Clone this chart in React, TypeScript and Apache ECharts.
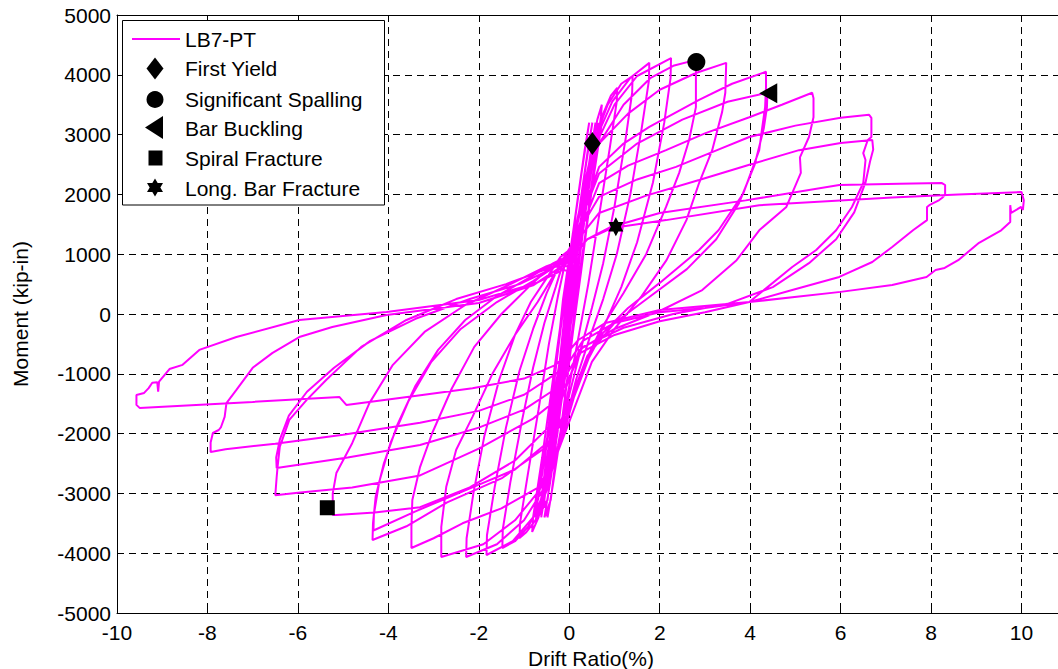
import React, { useEffect, useRef } from "react";
import * as echarts from "echarts";

type Pt = [number, number];

// Drift ratio (%) vs moment (kip-in), read cycle by cycle from the reference
const cycle1: Pt[] = [[0, 0], [0.1, 600], [0.2, 1200], [0.26, 1550], [0.24, 1400], [0.1, 550], [0, -50], [-0.1, -650], [-0.2, -1250], [-0.26, -1600], [-0.24, -1450], [-0.1, -600], [0.0, 50]];
const cycle2: Pt[] = [[0.1, 650], [0.25, 1500], [0.4, 2300], [0.5, 2850], [0.48, 2650], [0.3, 1500], [0.1, 250], [-0.05, -500], [-0.2, -1350], [-0.38, -2250], [-0.52, -2850], [-0.5, -2650], [-0.3, -1600], [-0.1, -350], [0.02, 300]];
const cycle2b: Pt[] = [[0.12, 800], [0.28, 1700], [0.42, 2400], [0.52, 2800], [0.5, 2600], [0.33, 1550], [0.12, 300], [-0.03, -450], [-0.18, -1300], [-0.36, -2200], [-0.5, -2800], [-0.48, -2600], [-0.28, -1550], [-0.08, -300], [0.04, 400]];
// elastic band cycles near the origin
const band1: Pt[] = [[-0.69, -3110], [-0.59, -2500], [-0.47, -1990], [-0.31, -1000], [-0.14, 234], [0.08, 1350], [0.2, 2000], [0.34, 2740], [0.44, 3200], [0.4, 3000], [0.28, 2400], [0.14, 1650], [-0.02, 700], [-0.19, -250], [-0.36, -1300], [-0.52, -2250], [-0.64, -2850], [-0.76, -3400]];
const band2: Pt[] = [[-0.62, -3110], [-0.52, -2500], [-0.4, -1990], [-0.24, -1000], [-0.07, 234], [0.15, 1350], [0.27, 2000], [0.41, 2740], [0.51, 3200], [0.47, 3000], [0.35, 2400], [0.21, 1650], [0.05, 700], [-0.12, -250], [-0.29, -1300], [-0.45, -2250], [-0.57, -2850], [-0.69, -3400]];
const band3: Pt[] = [[-0.48, -3110], [-0.38, -2500], [-0.26, -1990], [-0.1, -1000], [0.07, 234], [0.29, 1350], [0.41, 2000], [0.55, 2740], [0.65, 3200], [0.61, 3000], [0.49, 2400], [0.35, 1650], [0.19, 700], [0.02, -250], [-0.15, -1300], [-0.31, -2250], [-0.43, -2850], [-0.55, -3400]];
const band4: Pt[] = [[-0.41, -3110], [-0.31, -2500], [-0.19, -1990], [-0.03, -1000], [0.14, 234], [0.36, 1350], [0.48, 2000], [0.62, 2740], [0.72, 3200], [0.68, 3000], [0.56, 2400], [0.42, 1650], [0.26, 700], [0.09, -250], [-0.08, -1300], [-0.24, -2250], [-0.36, -2850], [-0.48, -3400]];
const band5: Pt[] = [[-0.55, -3110], [-0.45, -2500], [-0.33, -1990], [-0.17, -1000], [0.0, 234], [0.22, 1350], [0.34, 2000], [0.48, 2740], [0.58, 3200], [0.54, 3000], [0.42, 2400], [0.28, 1650], [0.12, 700], [-0.05, -250], [-0.22, -1300], [-0.38, -2250], [-0.5, -2850], [-0.62, -3400], [-0.3, -1200], [0.0, 200]];
const cycle3: Pt[] = [[0.15, 900], [0.35, 2000], [0.5, 2750], [0.62, 3250], [0.72, 3500], [0.7, 3300], [0.5, 2200], [0.3, 1000], [0.1, -100], [-0.1, -1100], [-0.3, -2100], [-0.5, -2900], [-0.68, -3400], [-0.82, -3645], [-0.8, -3400], [-0.6, -2400], [-0.38, -1200], [-0.18, -100], [-0.02, 600]];
const cycle4: Pt[] = [[0.15, 1050], [0.35, 2050], [0.55, 2850], [0.75, 3350], [0.92, 3650], [1.06, 3780], [1.05, 3550], [0.9, 2800], [0.65, 1600], [0.42, 500], [0.2, -400], [0.0, -1200], [-0.25, -2200], [-0.5, -2950], [-0.75, -3450], [-0.95, -3650], [-1.1, -3746], [-1.09, -3500], [-0.92, -2700], [-0.68, -1600], [-0.45, -500], [-0.25, 300], [-0.08, 900]];
const cycle5: Pt[] = [[0.1, 1150], [0.3, 2050], [0.55, 2900], [0.85, 3500], [1.15, 3850], [1.4, 3980], [1.39, 3700], [1.25, 2950], [1.0, 1800], [0.75, 850], [0.5, 100], [0.25, -600], [0.0, -1350], [-0.25, -2250], [-0.55, -3000], [-0.9, -3550], [-1.2, -3800], [-1.48, -3913], [-1.47, -3600], [-1.3, -2800], [-1.05, -1800], [-0.8, -900], [-0.55, -150], [-0.3, 450], [-0.1, 950]];
const cycle6: Pt[] = [[0.1, 1200], [0.3, 2050], [0.6, 2950], [0.95, 3550], [1.35, 3950], [1.77, 4200], [1.76, 3900], [1.6, 3100], [1.35, 2000], [1.05, 1000], [0.75, 250], [0.45, -400], [0.15, -1100], [-0.15, -2000], [-0.45, -2800], [-0.8, -3400], [-1.25, -3800], [-1.83, -4030], [-1.82, -3700], [-1.65, -2900], [-1.4, -1900], [-1.1, -950], [-0.8, -250], [-0.5, 350], [-0.2, 850]];
const cycle7: Pt[] = [[0.05, 1150], [0.3, 2000], [0.6, 2850], [1.0, 3500], [1.5, 3980], [2.25, 4280], [2.24, 3950], [2.1, 3200], [1.85, 2200], [1.5, 1200], [1.15, 450], [0.8, -150], [0.45, -700], [0.1, -1400], [-0.2, -2200], [-0.55, -2900], [-1.0, -3450], [-1.6, -3850], [-2.28, -4064], [-2.27, -3750], [-2.12, -3000], [-1.88, -2050], [-1.55, -1100], [-1.2, -350], [-0.85, 200], [-0.5, 600], [-0.2, 950]];
const cycle8: Pt[] = [[0.05, 1100], [0.3, 1950], [0.66, 2850], [1.2, 3500], [1.8, 3950], [2.3, 4150], [2.8, 4250], [2.8, 4080], [2.8, 3460], [2.65, 2910], [2.43, 2360], [2.14, 1790], [1.7, 1000], [1.2, 350], [0.7, -250], [0.35, -800], [0.05, -1500], [-0.25, -2300], [-0.66, -2950], [-1.2, -3450], [-1.9, -3850], [-2.83, -4064], [-2.83, -3560], [-2.72, -2890], [-2.5, -2270], [-2.14, -1720], [-1.7, -1000], [-1.2, -350], [-0.7, 200], [-0.3, 700]];
const cycle9: Pt[] = [[0.0, 900], [0.3, 1900], [0.66, 2850], [1.3, 3350], [2.0, 3750], [2.8, 4030], [3.47, 4200], [3.45, 3700], [3.38, 3380], [3.16, 2740], [2.87, 2190], [2.59, 1570], [2.15, 900], [1.6, 300], [1.0, -250], [0.5, -800], [0.15, -1500], [-0.2, -2200], [-0.66, -2890], [-1.5, -3250], [-2.36, -3500], [-3.0, -3750], [-3.49, -3913], [-3.49, -3560], [-3.47, -3110], [-3.3, -2560], [-3.03, -1990], [-2.6, -1250], [-2.1, -550], [-1.5, 0], [-0.9, 450], [-0.4, 800]];
const cycle10: Pt[] = [[0.0, 800], [0.3, 1700], [0.66, 2460], [1.2, 2850], [1.77, 3130], [2.87, 3580], [3.6, 3850], [4.35, 4050], [4.35, 3800], [4.33, 3460], [4.25, 3030], [4.2, 2740], [3.85, 2020], [3.3, 1400], [2.87, 1070], [2.0, 520], [1.3, 100], [0.7, -350], [0.25, -1000], [-0.15, -1800], [-0.5, -2220], [-1.5, -2750], [-2.7, -3150], [-3.6, -3550], [-4.35, -3780], [-4.34, -3500], [-4.28, -3050], [-4.1, -2500], [-3.8, -1850], [-3.4, -1200], [-2.9, -600], [-2.3, -100], [-1.6, 300], [-0.9, 600], [-0.35, 850]];
const cycle11: Pt[] = [[0.05, 1000], [0.35, 1750], [0.66, 2350], [1.5, 2850], [2.5, 3250], [3.5, 3550], [4.38, 3700], [4.37, 3450], [4.3, 3100], [4.1, 2500], [3.75, 1850], [3.25, 1250], [2.6, 750], [1.8, 300], [1.0, -150], [0.4, -700], [0.0, -1500], [-0.4, -2100], [-1.2, -2600], [-2.3, -2950], [-3.4, -3300], [-4.33, -3620], [-4.32, -3350], [-4.2, -2800], [-3.95, -2150], [-3.55, -1450], [-3.05, -800], [-2.4, -250], [-1.6, 200], [-0.8, 550], [-0.3, 800]];
const cycle12: Pt[] = [[0.0, 700], [0.3, 1500], [0.66, 2190], [1.3, 2480], [2.14, 2740], [3.0, 3020], [3.98, 3290], [4.7, 3500], [5.37, 3700], [5.4, 3610], [5.4, 3290], [5.3, 2960], [5.1, 2620], [5.12, 2360], [4.8, 1790], [4.2, 1400], [3.7, 900], [2.94, 400], [2.0, 50], [1.0, -250], [0.22, -600], [-0.1, -1300], [-0.4, -1850], [-1.2, -2450], [-2.2, -2900], [-3.3, -3230], [-4.3, -3320], [-5.15, -3360], [-5.23, -3360], [-5.23, -3000], [-5.15, -2660], [-4.8, -2160], [-4.42, -1490], [-3.9, -850], [-3.2, -300], [-2.3, 150], [-1.3, 500], [-0.5, 800]];
const cycle13: Pt[] = [[0.05, 950], [0.3, 1500], [0.66, 1960], [1.5, 2250], [2.36, 2460], [3.2, 2720], [3.98, 2960], [5.0, 3150], [6.0, 3280], [6.63, 3330], [6.68, 3280], [6.68, 2960], [6.6, 2910], [6.5, 2690], [6.55, 2575], [6.5, 2190], [6.25, 1790], [5.9, 1400], [5.46, 1070], [4.93, 786], [3.98, 200], [3.0, 30], [2.0, -120], [1.0, -350], [0.25, -650], [-0.05, -1150], [-0.3, -1450], [-0.8, -1750], [-2.0, -2250], [-3.3, -2700], [-4.8, -2900], [-6.0, -2990], [-6.5, -3030], [-6.47, -2730], [-6.45, -2560], [-6.4, -2220], [-6.19, -1770], [-5.81, -1440], [-5.37, -1100], [-4.6, -550], [-3.6, -100], [-2.5, 250], [-1.4, 500], [-0.5, 750]];
const cycle14: Pt[] = [[0.05, 950], [0.3, 1350], [0.66, 1690], [1.7, 1980], [2.87, 2240], [4.0, 2500], [5.08, 2740], [6.0, 2860], [6.7, 2910], [6.72, 2750], [6.65, 2550], [6.55, 2200], [6.3, 1700], [5.9, 1250], [5.3, 850], [4.5, 450], [3.5, 170], [2.3, 0], [1.2, -230], [0.3, -550], [-0.05, -1000], [-0.3, -1250], [-1.0, -1600], [-2.0, -1900], [-3.3, -2190], [-4.9, -2400], [-6.47, -2575], [-6.48, -2400], [-6.4, -2100], [-6.2, -1700], [-5.8, -1300], [-5.2, -900], [-4.4, -450], [-3.4, -80], [-2.2, 250], [-1.1, 500], [-0.4, 750]];
const cycle15: Pt[] = [[0.05, 950], [0.4, 1250], [0.9, 1450], [2.0, 1690], [3.9, 1900], [5.97, 2157], [7.3, 2180], [8.24, 2190], [8.31, 2157], [8.31, 1990], [8.24, 1940], [8.18, 1906], [7.96, 1820], [7.91, 1790], [7.91, 1570], [7.6, 1400], [7.14, 1120], [6.7, 870], [5.97, 620], [4.93, 400], [3.98, 200], [3.0, 100], [2.0, 30], [1.0, -150], [0.3, -450], [-0.05, -850], [-0.3, -1000], [-1.0, -1350], [-2.0, -1620], [-3.3, -1820], [-5.0, -2020], [-6.5, -2170], [-7.6, -2260], [-7.93, -2308], [-7.93, -2150], [-7.88, -1990], [-7.75, -1940], [-7.7, -1890], [-7.62, -1720], [-7.58, -1490], [-7.36, -1270], [-7.0, -900], [-6.56, -650], [-5.97, -385], [-5.24, -217], [-4.04, -17], [-2.0, 184], [-0.8, 480], [-0.2, 780]];
const cycle16: Pt[] = [[0.1, 1000], [0.4, 1250], [0.95, 1440], [2.14, 1570], [4.2, 1820], [7.14, 1950], [8.6, 2000], [10.0, 2040], [10.05, 1900], [10.03, 1740], [9.99, 1790], [9.77, 1690], [9.75, 1820], [9.75, 1540], [9.55, 1400], [9.06, 1190], [8.6, 900], [8.3, 770], [8.1, 735], [7.9, 620], [7.14, 485], [6.0, 370], [3.98, 200], [2.0, 67], [0.8, -150], [0.2, -435], [-0.1, -700], [-0.3, -850], [-1.0, -1080], [-2.14, -1240], [-3.5, -1380], [-4.93, -1520], [-5.08, -1390], [-7.0, -1470], [-9.5, -1570], [-9.57, -1520], [-9.57, -1355], [-9.4, -1320], [-9.3, -1240], [-9.22, -1150], [-9.11, -1140], [-9.09, -1300], [-9.07, -1130], [-8.84, -920], [-8.55, -850], [-8.18, -600], [-7.36, -385], [-5.97, -100], [-4.04, 33], [-2.0, 234], [-0.73, 518], [-0.15, 735], [0.05, 1000]];

// Damage-state markers
const firstYield: Pt[] = [[0.51, 2850]];
const significantSpalling: Pt[] = [[2.81, 4215]];
const barBuckling: Pt[] = [[4.4, 3690]];
const spiralFracture: Pt[] = [[-5.35, -3240]];
const longBarFracture: Pt[] = [[1.03, 1460]];

const FONT = "'Liberation Sans', Arial, Helvetica, sans-serif";
const MAGENTA = "#FF00FF";
const HEX_PATH = "path://M5,0 L6.443,2.5 L9.33,2.5 L7.887,5 L9.33,7.5 L6.443,7.5 L5,10 L3.557,7.5 L0.67,7.5 L2.113,5 L0.67,2.5 L3.557,2.5 Z";
const TRI_LEFT_PATH = "path://M0,5 L10,0 L10,10 Z";

export default function App() {
  const ref = useRef<HTMLDivElement>(null);
  useEffect(() => {
    const chart = echarts.init(ref.current!, null, { renderer: "svg" });
    const curve: Pt[] = [
      ...cycle1, ...cycle2, ...cycle2b, ...band1, ...band2, ...band3, ...band4, ...band5,
      ...cycle3, ...cycle4, ...cycle5, ...cycle6, ...cycle7, ...cycle8,
      ...cycle9, ...cycle10, ...cycle11, ...cycle12, ...cycle13, ...cycle14, ...cycle15, ...cycle16,
    ];
    const scatterBase = {
      type: "scatter",
      xAxisIndex: 0,
      yAxisIndex: 0,
      itemStyle: { color: "#000", opacity: 1 },
      z: 5,
      silent: true,
    };
    const legendX = 155;
    const textX = 185;
    const legendFont = `21px ${FONT}`;
    const Z = 100;
    const hex = (cx: number, cy: number) =>
      [[0, -9], [2.67, -4.5], [8, -4.5], [5.33, 0], [8, 4.5], [2.67, 4.5], [0, 9], [-2.67, 4.5], [-8, 4.5], [-5.33, 0], [-8, -4.5], [-2.67, -4.5]].map(
        ([dx, dy]) => [cx + dx, cy + dy]
      );
    const legendText = (y: number, text: string) => ({
      type: "text", z: Z + 1, x: textX, y, style: { text, font: legendFont, fill: "#000", verticalAlign: "middle" },
    });
    chart.setOption({
      animation: false,
      backgroundColor: "#fff",
      textStyle: { fontFamily: FONT },
      grid: { left: 117, top: 15, right: -54, bottom: 56, outerBoundsMode: "none", containLabel: false },
      xAxis: [
        {
          type: "value",
          position: "bottom",
          min: -10,
          max: 12,
          interval: 2,
          axisLine: { show: true, onZero: false, lineStyle: { color: "#000", width: 1 } },
          axisTick: { show: true, inside: true, length: 6, lineStyle: { color: "#000" } },
          axisLabel: { color: "#000", fontSize: 21, margin: 9, fontFamily: FONT, showMaxLabel: false, formatter: (v: number) => String(v) },
          splitLine: { show: true, lineStyle: { color: "#000", width: 1, type: [7, 5] } },
          name: "Drift Ratio(%)",
          nameLocation: "middle",
          nameGap: 29,
          nameTextStyle: { color: "#000", fontSize: 21, fontFamily: FONT, padding: [0, 47, 0, 0] },
        },
        {
          type: "value",
          position: "top",
          min: -10,
          max: 12,
          interval: 2,
          axisLine: { show: true, onZero: false, lineStyle: { color: "#000", width: 1 } },
          axisTick: { show: true, inside: true, length: 6, lineStyle: { color: "#000" } },
          axisLabel: { show: false },
          splitLine: { show: false },
        },
      ],
      yAxis: {
        type: "value",
        min: -5000,
        max: 5000,
        interval: 1000,
        axisLine: { show: true, onZero: false, lineStyle: { color: "#000", width: 1 } },
        axisTick: { show: true, inside: true, length: 6, lineStyle: { color: "#000" } },
        axisLabel: { color: "#000", fontSize: 21, margin: 6, fontFamily: FONT, formatter: (v: number) => String(v) },
        splitLine: { show: true, lineStyle: { color: "#000", width: 1, type: [7, 5] } },
        name: "Moment (kip-in)",
        nameLocation: "middle",
        nameRotate: 90,
        nameGap: 86,
        nameTextStyle: { color: "#000", fontSize: 21, fontFamily: FONT },
      },
      series: [
        {
          name: "LB7-PT",
          type: "line",
          data: curve,
          showSymbol: false,
          symbol: "none",
          lineStyle: { color: MAGENTA, width: 2 },
          z: 3,
          silent: true,
        },
        { ...scatterBase, name: "First Yield", data: firstYield, symbol: "diamond", symbolSize: [17, 23] },
        { ...scatterBase, name: "Significant Spalling", data: significantSpalling, symbol: "circle", symbolSize: 18 },
        { ...scatterBase, name: "Bar Buckling", data: barBuckling, symbol: TRI_LEFT_PATH, symbolSize: [18, 20] },
        { ...scatterBase, name: "Spiral Fracture", data: spiralFracture, symbol: "rect", symbolSize: [15, 15] },
        { ...scatterBase, name: "Long. Bar Fracture", data: longBarFracture, symbol: HEX_PATH, symbolSize: [15, 19] },
      ],
      graphic: [
        { type: "rect", z: Z, shape: { x: 122.5, y: 20.5, width: 262, height: 184.5 }, style: { fill: "#fff", stroke: "#000", lineWidth: 1 } },
        { type: "line", z: Z + 1, shape: { x1: 132, y1: 39, x2: 180, y2: 39 }, style: { stroke: MAGENTA, lineWidth: 2 } },
        { type: "polygon", z: Z + 1, shape: { points: [[legendX, 57.5], [legendX + 8.5, 68.5], [legendX, 79.5], [legendX - 8.5, 68.5]] }, style: { fill: "#000" } },
        { type: "circle", z: Z + 1, shape: { cx: legendX, cy: 99.5, r: 8.5 }, style: { fill: "#000" } },
        { type: "polygon", z: Z + 1, shape: { points: [[145, 127.5], [163, 116], [163, 139]] }, style: { fill: "#000" } },
        { type: "rect", z: Z + 1, shape: { x: 148.5, y: 150.5, width: 14, height: 15 }, style: { fill: "#000" } },
        { type: "polygon", z: Z + 1, shape: { points: hex(legendX, 187.5) }, style: { fill: "#000" } },
        legendText(39, "LB7-PT"),
        legendText(68.5, "First Yield"),
        legendText(99.5, "Significant Spalling"),
        legendText(128, "Bar Buckling"),
        legendText(158, "Spiral Fracture"),
        legendText(188, "Long. Bar Fracture"),
      ],
    });
    return () => chart.dispose();
  }, []);
  return <div ref={ref} style={{ position: "fixed", left: 0, top: 0, width: 1058, height: 669, background: "#fff" }} />;
}
